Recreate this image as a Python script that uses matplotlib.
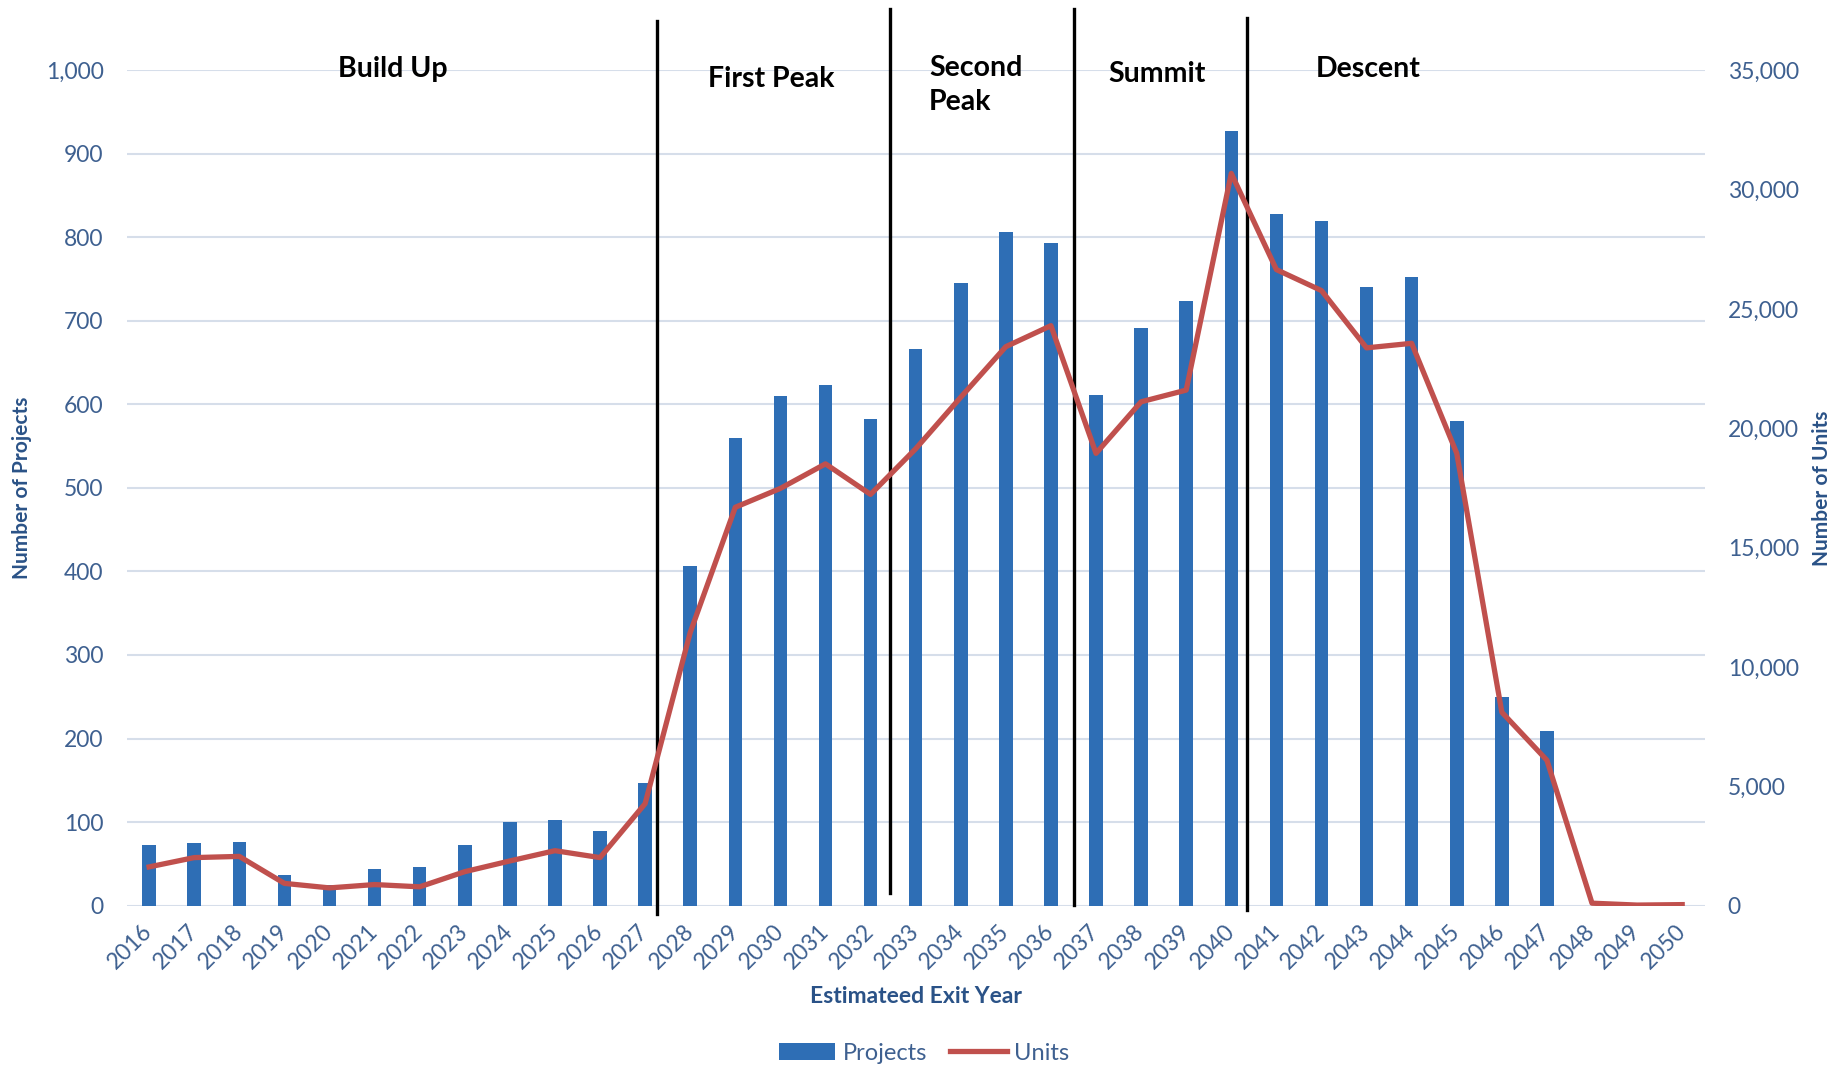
import matplotlib
matplotlib.use("Agg")
import matplotlib.pyplot as plt
import numpy as np

plt.rcParams['font.family'] = ['Lato', 'DejaVu Sans']

years = [str(y) for y in range(2016, 2051)]
projects = [72, 75, 76, 36, 25, 44, 46, 72, 100, 103, 89, 147, 407, 560, 610, 623, 582,
            666, 745, 806, 793, 611, 692, 724, 927, 828, 820, 740, 753, 580, 250, 209, 0, 0, 0]
units = [1620, 2010, 2060, 930, 740, 880, 785, 1420, 1870, 2300, 2010, 4270, 11440, 16690,
         17480, 18510, 17230, 19140, 21300, 23420, 24300, 18950, 21110, 21600, 30680, 26650,
         25770, 23370, 23560, 18950, 8100, 6090, 100, 20, 40]

phase_labels = ["Build Up", "First Peak", "Second\nPeak", "Summit", "Descent"]

TICK_C = '#3E6090'
LABEL_C = '#2A5287'
BAR_C = '#2E6EB5'
LINE_C = '#C0504D'
GRID_C = '#D6DEEA'

fig = plt.figure(figsize=(18.37, 10.67), dpi=100)
ax = fig.add_axes([0.0689, 0.1513, 0.8591, 0.7828])
ax2 = ax.twinx()

x = np.arange(len(years))
ax.bar(x, projects, width=0.3, color=BAR_C, label='Projects', zorder=2)
ax2.plot(x, units, color=LINE_C, lw=3.8, solid_joinstyle='round', label='Units', zorder=3)

ax.set_xlim(-0.5, len(years) - 0.5)
ax.set_ylim(0, 1000)
ax2.set_ylim(0, 35000)
ax.set_yticks(np.arange(0, 1001, 100))
ax2.set_yticks(np.arange(0, 35001, 5000))
ax.yaxis.set_major_formatter(matplotlib.ticker.FuncFormatter(lambda v, p: f"{int(v):,}"))
ax2.yaxis.set_major_formatter(matplotlib.ticker.FuncFormatter(lambda v, p: f"{int(v):,}"))
ax.grid(axis='y', color=GRID_C, lw=1.5, zorder=0)
ax.set_axisbelow(True)
ax.set_xticks(x)
ax.set_xticklabels(years, rotation=45, ha='right', va='center', rotation_mode='anchor')

for a in (ax, ax2):
    for s in a.spines.values():
        s.set_visible(False)
ax.tick_params(axis='y', length=0, pad=16.5, labelsize=16.5, labelcolor=TICK_C)
ax2.tick_params(axis='y', length=0, pad=16.5, labelsize=16.5, labelcolor=TICK_C)
ax.tick_params(axis='x', length=0, pad=16, labelsize=16.5, labelcolor=TICK_C)

ax.set_ylabel("Number of Projects", fontsize=15, fontweight='bold', color=LABEL_C)
ax.yaxis.set_label_coords(-0.060, 0.5)
ax2.set_ylabel("Number of Units", fontsize=15, fontweight='bold', color=LABEL_C)
ax2.yaxis.set_label_coords(1.068, 0.5)
ax.set_xlabel("Estimateed Exit Year", fontsize=16.5, fontweight='bold', color=LABEL_C)
ax.xaxis.set_label_coords(0.5, -0.096)

# phase dividers (data x, y-bottom, y-top)
dividers = [(11.27, -10, 1059), (16.42, 15, 1073), (20.52, 1, 1073), (24.34, -5, 1063)]
for dx, y0, y1 in dividers:
    ax.plot([dx, dx], [y0, y1], color='black', lw=2.4, clip_on=False, zorder=5)

# phase labels
label_pos = [(5.40, 1001, 'center'), (13.79, 990, 'center'), (17.30, 982, 'left'),
             (22.36, 996, 'center'), (27.04, 1001, 'center')]
for txt, (lx, ly, ha) in zip(phase_labels, label_pos):
    ax.text(lx, ly, txt, ha=ha, va='center', fontsize=20.5, fontweight='bold',
            color='black', clip_on=False, zorder=6, linespacing=1.38)

h1, l1 = ax.get_legend_handles_labels()
h2, l2 = ax2.get_legend_handles_labels()
leg = fig.legend(h1 + h2, l1 + l2, loc='center', bbox_to_anchor=(0.503, 0.013), ncol=2,
                 frameon=False, fontsize=17, handlelength=2.4, handletextpad=0.3,
                 columnspacing=1.0)
for t in leg.get_texts():
    t.set_color(TICK_C)

fig.savefig("out.png", dpi=100)
